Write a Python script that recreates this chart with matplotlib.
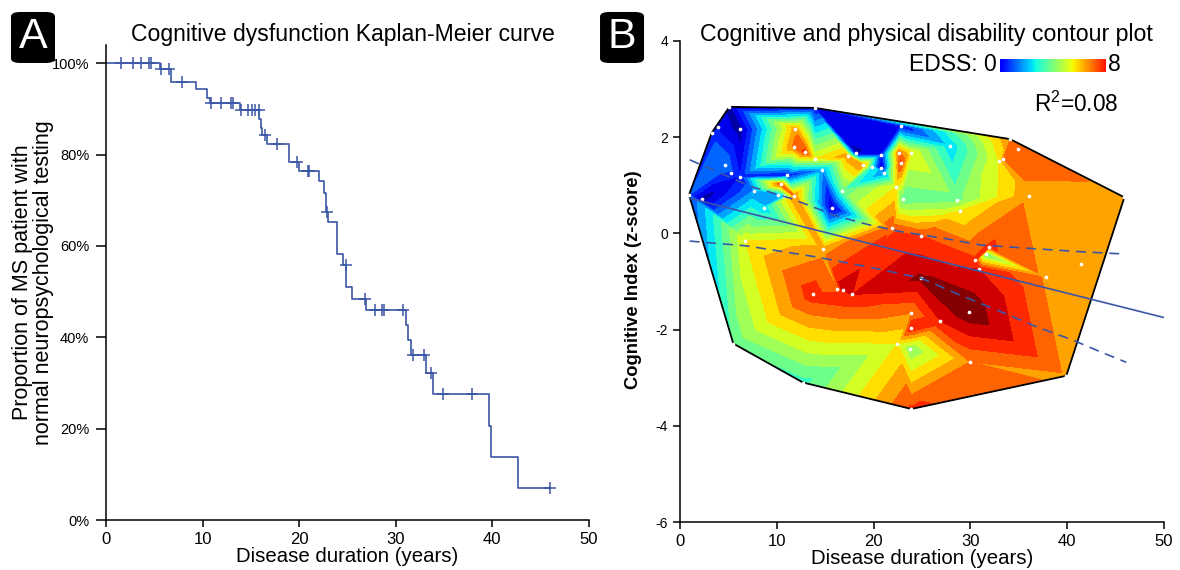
import numpy as np
import matplotlib.pyplot as plt
import matplotlib.tri as mtri
from matplotlib.collections import LineCollection
from matplotlib.colors import ListedColormap, Normalize
from matplotlib.cm import ScalarMappable
from matplotlib.patches import FancyBboxPatch

plt.rcParams['font.family'] = ['Liberation Sans', 'DejaVu Sans']
plt.rcParams['axes.unicode_minus'] = False
plt.rcParams['mathtext.default'] = 'regular'

# --- A: Kaplan-Meier steps (years, % still normal)
km_time = [0, 5.6, 6.7, 9.3, 10.5, 10.8, 13.9, 15.85, 16.0, 16.15, 16.7, 18.9, 20.0,
           22.05, 22.6, 22.8, 22.95, 23.9, 24.5, 24.9, 25.5, 26.9, 31.1, 31.3, 31.6,
           33.1, 33.9, 39.7, 39.9, 42.7, 46.0]
km_surv = [100, 98.8, 95.8, 94.3, 92.5, 91.4, 89.7, 87.7, 85.9, 84.2, 82.4, 78.4, 76.5,
           74.2, 71.6, 67.5, 65.2, 58.3, 55.9, 51.0, 48.5, 46.0, 42.8, 39.5, 36.2,
           32.2, 27.6, 20.6, 13.7, 6.9, 6.9]
# censored patients
cens_time = [1.55, 2.8, 3.6, 4.5, 4.65, 5.7, 6.55, 7.9, 10.9, 11.9, 12.9, 13.1, 14.0,
             14.7, 15.1, 15.4, 15.8, 16.5, 17.7, 19.8, 20.9, 21.0, 22.85, 24.8, 26.8,
             27.9, 28.6, 28.8, 30.8, 31.8, 32.95, 33.7, 34.9, 37.9, 46.0]
cens_surv = [100, 100, 100, 100, 100, 98.8, 98.8, 95.8, 91.4, 91.4, 91.4, 91.4, 89.7,
             89.7, 89.7, 89.7, 89.7, 84.2, 82.4, 78.4, 76.5, 76.5, 67.5, 55.9, 48.5,
             46.0, 46.0, 46.0, 46.0, 36.2, 36.2, 32.2, 27.6, 27.6, 6.9]

# --- B: patients (duration, cognitive index, EDSS)
dur = [0.93, 3.27, 5.1, 13.9, 34.1, 45.9, 39.9, 23.9, 12.7, 5.5,
       3.96, 6.2, 11.9, 11.8, 12.9, 13.9, 17.3, 18.2, 18.9, 19.8,
       20.8, 20.8, 21.1, 22.8, 22.6, 23.9, 22.8, 22.3, 23.0, 28.6,
       28.9, 21.9, 24.9, 16.7, 15.7, 14.7, 11.1, 11.8, 10.4, 10.1,
       10.7, 8.7, 7.6, 6.2, 5.3, 4.6, 2.3, 6.75, 14.8, 27.9,
       32.9, 33.4, 34.95, 36.0, 31.95, 31.6, 30.5, 30.9, 37.8, 41.4,
       24.9, 13.7, 16.25, 16.8, 17.8, 23.9, 23.9, 26.9, 22.45, 23.8,
       29.96, 29.9]
cog = [0.80, 2.09, 2.63, 2.61, 1.96, 0.75, -2.96, -3.65, -3.10, -2.29,
       2.22, 2.17, 2.18, 1.80, 1.69, 1.55, 1.60, 1.67, 1.42, 1.39,
       1.64, 1.35, 1.26, 2.23, 1.68, 1.68, 1.47, 0.97, 0.71, 0.70,
       0.47, 0.11, -0.05, 0.89, 0.53, 1.32, 1.21, 0.78, 1.02, 0.80,
       0.77, 0.53, 0.89, 1.18, 1.25, 1.42, 0.71, -0.16, -0.33, 1.82,
       1.51, 1.54, 1.75, 0.78, -0.28, -0.43, -0.55, -0.74, -0.91, -0.64,
       -0.93, -1.27, -1.16, -1.18, -1.27, -1.66, -1.96, -1.82, -2.29, -2.40,
       -2.67, -1.64]
edss = [1.5, 1.3, 0.3, 0.9, 6.0, 5.9, 5.9, 6.6, 3.3, 3.6,
        1.0, 0.2, 5.8, 6.2, 6.6, 5.0, 5.8, 0.4, 6.0, 3.0,
        1.0, 0.4, 2.0, 1.0, 6.2, 5.0, 6.6, 5.0, 3.6, 3.8,
        5.0, 6.4, 6.5, 3.6, 0.4, 2.0, 1.0, 6.0, 6.4, 2.0,
        2.5, 2.6, 2.0, 1.0, 1.3, 2.0, 0.2, 5.0, 5.8, 2.6,
        5.0, 6.0, 6.2, 5.9, 6.6, 3.6, 6.6, 7.0, 5.9, 5.9,
        7.6, 6.8, 6.0, 7.3, 7.0, 6.0, 7.0, 7.0, 5.0, 4.0,
        6.0, 7.9]

# regression line and its 95% band
fit_x = [1, 50]
fit_y = [0.73, -1.75]
band_up_x = [1, 7.4, 11.4, 16.2, 19.3, 22.7, 27.5, 31.0, 36.0, 41.3, 46.0]
band_up_y = [1.53, 0.97, 0.73, 0.36, 0.19, 0.04, -0.11, -0.24, -0.31, -0.38, -0.43]
band_lo_x = [1, 6.9, 13.8, 19.3, 24.9, 28.9, 32.7, 36.8, 40.6, 43.4, 46.1]
band_lo_y = [-0.16, -0.26, -0.48, -0.69, -0.93, -1.28, -1.59, -1.94, -2.22, -2.46, -2.68]

line_blue = '#3b56a6'

fig = plt.figure(figsize=(11.8, 5.7), dpi=100)

# ---------------- panel A
axA = fig.add_axes([0.0898, 0.0877, 0.4093, 0.8333])
axA.step(km_time, km_surv, where='post', color=line_blue, lw=1.2)
axA.plot(cens_time, cens_surv, ls='none', marker='+', ms=8, mew=1.1, color=line_blue)
axA.set_xlim(0, 50)
axA.set_ylim(0, 104)
axA.set_xticks(range(0, 51, 10))
axA.set_yticks(range(0, 101, 20))
axA.set_yticklabels([f'{v}%' for v in range(0, 101, 20)])
axA.tick_params(axis='x', labelsize=12, direction='out', length=5, width=1.1)
axA.tick_params(axis='y', labelsize=10.5, direction='out', length=7, width=1.1, pad=5)
for s in ['top', 'right']:
    axA.spines[s].set_visible(False)
for s in ['left', 'bottom']:
    axA.spines[s].set_linewidth(1.1)
axA.set_xlabel('Disease duration (years)', fontsize=14.7, labelpad=0)
fig.text(0.028, 0.505, 'Proportion of MS patient with\nnormal neuropsychological testing',
         rotation=90, ha='center', va='center', fontsize=15.5, linespacing=0.95)

# ---------------- panel B
axB = fig.add_axes([0.5763, 0.0842, 0.4102, 0.8439])
# triangulate with y stretched to match the on-screen aspect, then use data coords
scr = mtri.Triangulation(dur, np.array(cog) * 4.97)
tri = mtri.Triangulation(dur, cog, triangles=scr.triangles)
levels = np.arange(0, 8.01, 0.5)
axB.tricontourf(tri, edss, levels=levels, cmap='jet', vmin=0, vmax=7.8, zorder=1)
# convex hull outline = triangulation edges without a neighbour
segs = []
for t in range(len(tri.triangles)):
    for j in range(3):
        if tri.neighbors[t, j] == -1:
            a = tri.triangles[t, j]
            b = tri.triangles[t, (j + 1) % 3]
            segs.append([(dur[a], cog[a]), (dur[b], cog[b])])
axB.add_collection(LineCollection(segs, colors='black', linewidths=1.3, zorder=3))
axB.scatter(dur, cog, s=7, color='white', lw=0, zorder=4)
axB.plot(fit_x, fit_y, color=line_blue, lw=1.2, zorder=5)
axB.plot(band_up_x, band_up_y, color=line_blue, lw=1.2, ls=(0, (6, 4)), zorder=5)
axB.plot(band_lo_x, band_lo_y, color=line_blue, lw=1.2, ls=(0, (6, 4)), zorder=5)
axB.set_xlim(0, 50)
axB.set_ylim(-6, 4)
axB.set_xticks(range(0, 51, 10))
axB.set_yticks(range(-6, 5, 2))
axB.tick_params(axis='x', labelsize=12, direction='out', length=5, width=1.1)
axB.tick_params(axis='y', labelsize=10, direction='out', length=5, width=1.1)
for s in ['top', 'right']:
    axB.spines[s].set_visible(False)
for s in ['left', 'bottom']:
    axB.spines[s].set_linewidth(1.1)
axB.set_xlabel('Disease duration (years)', fontsize=14.7, labelpad=0)
fig.text(0.537, 0.509, 'Cognitive Index (z-score)', rotation=90, ha='center',
         va='center', fontsize=13.2, fontweight='bold')

# colour key
cax = fig.add_axes([0.8475, 0.8737, 0.0898, 0.0228])
jet_part = ListedColormap(plt.cm.jet(np.linspace(0.11, 0.89, 256)))
cb = fig.colorbar(ScalarMappable(Normalize(0, 8), jet_part), cax=cax, orientation='horizontal')
cb.set_ticks([])
cb.outline.set_visible(False)
fig.text(0.845, 0.8754, 'EDSS: 0', ha='right', va='baseline', fontsize=16.5)
fig.text(0.939, 0.8754, '8', ha='left', va='baseline', fontsize=16.5)
fig.text(0.9475, 0.804, 'R$^2$=0.08', ha='right', va='baseline', fontsize=16.3)

# titles and panel letters
fig.text(0.291, 0.928, 'Cognitive dysfunction Kaplan-Meier curve', ha='center',
         va='baseline', fontsize=16.6)
fig.text(0.7853, 0.928, 'Cognitive and physical disability contour plot', ha='center',
         va='baseline', fontsize=16.7)
for x0, letter in [(0.0093, 'A'), (0.5085, 'B')]:
    fig.patches.append(FancyBboxPatch((x0, 0.8895), 0.0373, 0.0895,
                                      boxstyle='round,pad=0,rounding_size=0.008',
                                      transform=fig.transFigure, facecolor='black',
                                      edgecolor='none'))
    fig.text(x0 + 0.0373 / 2, 0.8895 + 0.0895 / 2, letter, color='white',
             ha='center', va='center', fontsize=31)

fig.savefig('out.png', dpi=100)
